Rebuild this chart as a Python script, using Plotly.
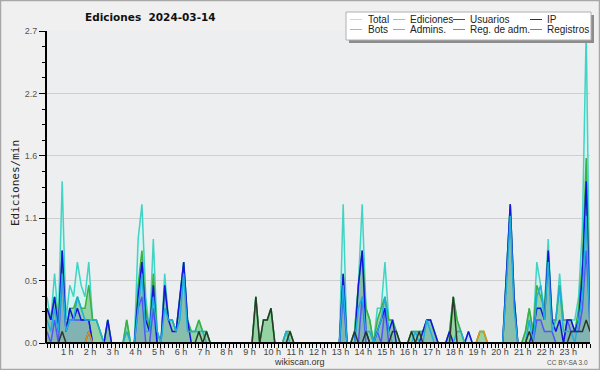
import plotly.graph_objects as go

# ---- data: 10-minute slots (144), edits per minute ----
slots = list(range(144))
hours = list(range(1, 24))
hour_labels = [f"{h} h" for h in hours]
y_tickvals = [0, 0.54, 1.08, 1.62, 2.16, 2.7]
y_ticktext = ["0.0", "0.5", "1.1", "1.6", "2.2", "2.7"]

total = [
    .4, .2, .6, .2, 1.4, .2,
    .5, .4, .7, .5, .4, .7,
    .2, .2, .1, 0, .2, 0,
    0, 0, 0, .2, 0, 0,
    .9, 1.2, .4, .1, .9, .1,
    0, .6, .2, .2, .1, .4,
    .7, .2, .1, .1, .2, .1,
    .1, 0, 0, 0, 0, 0,
    0, 0, 0, 0, 0, 0,
    0, .4, 0, .2, .2, .3,
    0, 0, 0, .1, .1, 0,
    0, 0, 0, 0, 0, 0,
    0, 0, 0, 0, 0, 0,
    1.2, 0, 0, .1, .5, 1.2,
    .3, .2, 0, .3, .3, .7,
    .2, .2, .1, 0, 0, 0,
    .1, .1, .1, .1, .2, .2,
    .1, 0, 0, 0, .1, .4,
    .2, .1, 0, .1, 0, 0,
    .1, .1, 0, 0, 0, 0,
    0, .6, 1.2, .4, 0, 0,
    .1, .3, .1, .7, .5, .3,
    .9, .2, .2, .6, .2, .2,
    .2, .2, .4, 1.0, 2.7, .2,
]
ediciones = [
    .3, .2, .4, .2, .8, .1,
    .3, .3, .4, .3, .3, .5,
    .2, .2, .1, 0, .2, 0,
    0, 0, 0, .2, 0, 0,
    .5, .8, .3, .1, .6, .1,
    0, .5, .2, .2, .1, .4,
    .7, .2, .1, .1, .2, .1,
    .1, 0, 0, 0, 0, 0,
    0, 0, 0, 0, 0, 0,
    0, .4, 0, .2, .2, .3,
    0, 0, 0, .1, .1, 0,
    0, 0, 0, 0, 0, 0,
    0, 0, 0, 0, 0, 0,
    .6, 0, 0, .1, .5, .8,
    .3, .2, 0, .2, .3, .4,
    .2, .2, .1, 0, 0, 0,
    .1, .1, .1, .1, .2, .2,
    .1, 0, 0, 0, .1, .4,
    .2, .1, 0, 0, 0, 0,
    .1, .1, 0, 0, 0, 0,
    0, .6, 1.2, .4, 0, 0,
    .1, .3, .1, .5, .4, .3,
    .8, .2, .2, .5, .2, .2,
    .2, .1, .3, .7, 1.6, .2,
]
usuarios = [
    .3, .2, .4, .1, .8, .1,
    .3, .2, .3, .2, .2, .2,
    0, 0, 0, 0, .2, 0,
    0, 0, 0, 0, 0, 0,
    .4, .7, .2, .1, .5, 0,
    0, .5, .2, .1, .1, .4,
    .7, .2, 0, 0, 0, 0,
    0, 0, 0, 0, 0, 0,
    0, 0, 0, 0, 0, 0,
    0, 0, 0, 0, 0, 0,
    0, 0, 0, 0, 0, 0,
    0, 0, 0, 0, 0, 0,
    0, 0, 0, 0, 0, 0,
    .6, 0, 0, 0, .5, .8,
    .1, 0, 0, .1, .2, .3,
    .1, .2, 0, 0, 0, 0,
    0, 0, 0, .1, .2, .2,
    .1, 0, 0, 0, .1, 0,
    0, 0, 0, .1, 0, 0,
    0, 0, 0, 0, 0, 0,
    0, .6, 1.2, .4, 0, 0,
    0, 0, .1, .3, .3, .2,
    .8, .2, .1, .2, 0, .2,
    .2, .1, .2, .6, 1.4, .1,
]
ip = [
    0, 0, 0, 0, .1, 0,
    0, 0, 0, 0, 0, .1,
    0, 0, 0, 0, 0, 0,
    0, 0, 0, 0, 0, 0,
    0, 0, 0, 0, 0, 0,
    0, 0, 0, 0, 0, 0,
    0, 0, 0, 0, .1, 0,
    .1, 0, 0, 0, 0, 0,
    0, 0, 0, 0, 0, 0,
    0, .4, 0, .2, .2, .3,
    0, 0, 0, 0, .1, 0,
    0, 0, 0, 0, 0, 0,
    0, 0, 0, 0, 0, 0,
    0, 0, 0, .1, 0, 0,
    .1, 0, 0, 0, 0, 0,
    0, .1, .1, 0, 0, 0,
    .1, 0, .1, 0, 0, 0,
    0, 0, 0, 0, 0, .4,
    0, 0, 0, 0, 0, 0,
    0, 0, 0, 0, 0, 0,
    0, 0, 0, 0, 0, 0,
    0, .1, 0, 0, 0, 0,
    0, 0, 0, 0, 0, 0,
    .1, .1, .1, .1, .2, .1,
]
admins = [
    .2, .1, .3, .1, .6, .1,
    .2, .2, .4, .3, .2, .2,
    .2, .2, .1, 0, 0, 0,
    0, 0, 0, .1, 0, 0,
    .3, .6, .1, .1, .4, .1,
    0, .3, .2, .2, .1, .2,
    .6, .1, .1, .1, .1, .1,
    0, 0, 0, 0, 0, 0,
    0, 0, 0, 0, 0, 0,
    0, 0, 0, 0, 0, 0,
    0, 0, 0, .1, 0, 0,
    0, 0, 0, 0, 0, 0,
    0, 0, 0, 0, 0, 0,
    .5, 0, 0, 0, .3, .4,
    .1, .1, 0, .1, .2, .4,
    .1, 0, 0, 0, 0, 0,
    0, .1, 0, 0, .2, .1,
    0, 0, 0, 0, 0, 0,
    .1, .1, 0, 0, 0, 0,
    0, 0, 0, 0, 0, 0,
    0, .5, 1.1, .3, 0, 0,
    0, .2, 0, .4, .5, .2,
    .7, .1, .2, .5, .1, .1,
    .1, 0, .2, .4, 1.1, .1,
]
registros = [
    .1, 0, .2, 0, .6, .1,
    .2, .2, .2, .2, .2, .2,
    0, 0, 0, 0, 0, 0,
    0, 0, 0, 0, 0, 0,
    .3, .4, 0, 0, .3, 0,
    0, 0, 0, 0, 0, 0,
    0, 0, 0, 0, 0, 0,
    0, 0, 0, 0, 0, 0,
    0, 0, 0, 0, 0, 0,
    0, 0, 0, 0, 0, 0,
    0, 0, 0, 0, 0, 0,
    0, 0, 0, 0, 0, 0,
    0, 0, 0, 0, 0, 0,
    .4, 0, 0, 0, 0, .4,
    0, 0, 0, .1, 0, .3,
    0, 0, 0, 0, 0, 0,
    0, 0, 0, 0, 0, 0,
    0, 0, 0, 0, 0, 0,
    0, 0, 0, 0, 0, 0,
    0, 0, 0, 0, 0, 0,
    0, 0, 0, 0, 0, 0,
    0, 0, 0, .2, .2, .1,
    .1, .1, 0, 0, 0, .2,
    .1, .1, .1, .3, .8, .2,
]
bots = [0] * 144
bots[11] = .1
bots[114] = .1
bots[115] = .1
reg_adm = [0] * 144

# ---- geometry helpers (pixel -> paper) ----
L, R, T, B = 47, 10, 31, 27
W, H = 600, 370
PW, PH = W - L - R, H - T - B


def px(x):
    return (x - L) / PW


def py(y):
    return (H - B - y) / PH


fig = go.Figure()

series = [
    ("Total", total, "#40d4c4", "rgba(200,250,240,0.55)"),
    ("Ediciones", ediciones, "#3cb043", "rgba(70,170,70,0.45)"),
    ("Registros", registros, "#5c5cf8", "rgba(90,90,250,0.10)"),
    ("Usuarios", usuarios, "#1414e0", "rgba(40,40,230,0.12)"),
    ("Admins.", admins, "#1eaee0", None),
    ("IP", ip, "#2a3a2a", None),
    ("Bots", bots, "#e89020", None),
    ("Reg. de adm.", reg_adm, "#d040d0", None),
]
for name, vals, col, fc in series:
    kw = dict(fill="tozeroy", fillcolor=fc) if fc else {}
    fig.add_trace(go.Scatter(x=slots, y=vals, mode="lines", name=name,
                             line=dict(color=col, width=1.5), showlegend=False,
                             hoverinfo="skip", **kw))

fig.update_layout(
    width=W, height=H,
    margin=dict(l=L, r=R, t=T, b=B),
    paper_bgcolor="#f0f0f0",
    plot_bgcolor="#eceef0",
    font=dict(family="Liberation Sans", size=9, color="#444"),
    xaxis=dict(range=[0, 143], tickmode="array",
               tickvals=[6 * h - 0.7 for h in hours], ticktext=hour_labels,
               ticks="", showgrid=False, zeroline=False, showline=False,
               ticklabelstandoff=2,
               tickfont=dict(size=9, color="#444"),
               minor=dict(tickmode="linear", tick0=0, dtick=1, ticks="outside",
                          ticklen=4, tickwidth=1, tickcolor="black", showgrid=False)),
    yaxis=dict(range=[0, 2.7], tickmode="array", tickvals=y_tickvals,
               ticktext=y_ticktext, ticks="outside", ticklen=6, tickwidth=1,
               tickcolor="black", showgrid=True, gridcolor="#cfcfcf",
               gridwidth=1, zeroline=False, showline=True, linecolor="black",
               linewidth=2, tickfont=dict(size=9, color="#555"),
               minor=dict(tickmode="linear", tick0=0, dtick=0.135, ticks="outside",
                          ticklen=3, tickwidth=1, tickcolor="black", showgrid=False)),
)

shapes = []
annotations = []

# x axis baseline drawn above the traces
shapes.append(dict(type="line", xref="paper", yref="paper", x0=px(45.5), x1=1, y0=0, y1=0,
                   line=dict(color="black", width=2), layer="above"))

# outer border
shapes.append(dict(type="rect", xref="paper", yref="paper",
                   x0=px(0.5), x1=px(599.5), y0=py(0.5), y1=py(369.5),
                   line=dict(color="#a8a8a8", width=1.5), layer="above"))

# title and axis title
annotations.append(dict(text="<b>Ediciones\u00a0 2024-03-14</b>", xref="paper", yref="paper",
                        x=px(83), y=py(17), xanchor="left", yanchor="middle",
                        showarrow=False, font=dict(family="DejaVu Sans", size=10.5, color="#111")))
annotations.append(dict(text="Ediciones/min", xref="paper", yref="paper",
                        x=px(15), y=py(183), xanchor="center", yanchor="middle",
                        textangle=-90, showarrow=False,
                        font=dict(family="DejaVu Sans Mono", size=11, color="#222")))
annotations.append(dict(text="wikiscan.org", xref="paper", yref="paper",
                        x=px(299), y=py(362), xanchor="center", yanchor="middle",
                        showarrow=False, font=dict(family="Liberation Sans", size=9, color="#333")))
annotations.append(dict(text="CC BY-SA 3.0", xref="paper", yref="paper",
                        x=px(590), y=py(362), xanchor="right", yanchor="middle",
                        showarrow=False, font=dict(family="Liberation Sans", size=6.5, color="#555")))

# legend box
shapes.append(dict(type="rect", xref="paper", yref="paper",
                   x0=px(349), x1=px(594), y0=py(15), y1=py(43),
                   fillcolor="#8c8c8c", line=dict(width=0), layer="above"))
shapes.append(dict(type="rect", xref="paper", yref="paper",
                   x0=px(346), x1=px(591), y0=py(12), y1=py(40),
                   fillcolor="white", line=dict(color="#b0b0b0", width=1), layer="above"))

legend_items = [
    ("Total", "#a8e8e0", 0, 0), ("Ediciones", "#88d888", 1, 0),
    ("Usuarios", "#3c3cd8", 2, 0), ("IP", "#333333", 3, 0),
    ("Bots", "#f0a848", 0, 1), ("Admins.", "#48c8e0", 1, 1),
    ("Reg. de adm.", "#d850d8", 2, 1), ("Registros", "#7070f0", 3, 1),
]
sample_x = [350, 393, 453, 530]
text_x = [366, 408, 468, 545]
row_y = [19.5, 29.5]
for label, col, c, r in legend_items:
    yy = row_y[r]
    shapes.append(dict(type="line", xref="paper", yref="paper",
                       x0=px(sample_x[c]), x1=px(sample_x[c] + 12), y0=py(yy), y1=py(yy),
                       line=dict(color=col, width=1), layer="above"))
    annotations.append(dict(text=label, xref="paper", yref="paper",
                            x=px(text_x[c]), y=py(yy), xanchor="left", yanchor="middle",
                            showarrow=False,
                            font=dict(family="Liberation Sans", size=10, color="#222")))

fig.update_layout(shapes=shapes, annotations=annotations)
fig.write_html("out.html", config={"displayModeBar": False},
               post_script="document.body.style.margin='0';")
